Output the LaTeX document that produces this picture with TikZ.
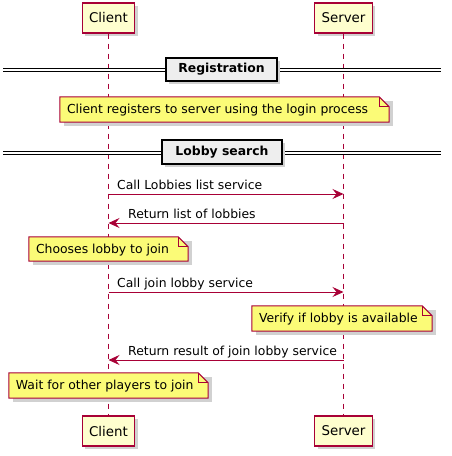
\documentclass[tikz,border=0pt]{standalone}
\usepackage{fontspec}
\setmainfont{DejaVu Sans}
\usetikzlibrary{arrows.meta,shadows}

\definecolor{umlred}{HTML}{A80036}
\definecolor{umlbeige}{HTML}{FEFECE}
\definecolor{umlyellow}{HTML}{FBFB77}
\definecolor{umlgrey}{HTML}{EEEEEE}

\tikzset{
  actor/.style={shape=rectangle, draw=umlred, fill=umlbeige, line width=1.2pt,
    minimum height=30pt, inner xsep=7pt, inner ysep=0pt,
    font=\fontsize{13.4}{16}\selectfont,
    drop shadow={shadow xshift=3pt, shadow yshift=-3pt, fill=black!18, opacity=1}},
  lifeline/.style={draw=umlred, line width=1pt, dash pattern=on 5pt off 5pt},
  msg/.style={draw=umlred, line width=1pt, -{Stealth[length=11pt, width=10pt, inset=4pt]}},
  msgtext/.style={anchor=base west, inner sep=0pt, font=\fontsize{12.4}{15}\selectfont},
  divline/.style={draw=black, line width=1pt, double=white, double distance=2.5pt},
  divbox/.style={shape=rectangle, draw=black, fill=umlgrey, line width=2pt, inner sep=0pt,
    font=\bfseries\fontsize{12.4}{15}\selectfont,
    drop shadow={shadow xshift=3pt, shadow yshift=-3pt, fill=black!18, opacity=1}},
  notearea/.style={shape=rectangle, draw=none, inner sep=0pt},
  notetext/.style={anchor=base west, inner sep=0pt, font=\fontsize{12.4}{15}\selectfont},
}

% folded note outline round an empty node
\newcommand{\foldnote}[1]{%
  \fill[black!18] ([shift={(4pt,-4pt)}]#1.south west) rectangle ([shift={(4pt,-4pt)}]#1.north east);
  \filldraw[draw=umlred, fill=umlyellow, line width=1pt]
    (#1.south west) -- (#1.north west) -- ([xshift=-10pt]#1.north east)
    -- ([yshift=-10pt]#1.north east) -- (#1.south east) -- cycle;
  \draw[umlred, line width=1pt] ([xshift=-10pt]#1.north east) |- ([yshift=-10pt]#1.north east);
}

\begin{document}
\begin{tikzpicture}[x=1pt, y=-1pt]
\useasboundingbox (0,0) rectangle (452,456);
%%%%%%%%%%%%%%%%%%%%%%%%%%%%%%%%%%%%%%%%%%% HELP LINES
%\draw[help lines, step=10pt] (0,0) grid (452,456);

%%%%%%%%%%%%%%%%%%%%%%%%%%%%%%%%%%%%%%%%%%% participants
\node[actor](clientTop)at(108.5,18){Client};
\node[actor](serverTop)at(343.5,18){Server};
\node[actor](clientBot)at(108.5,431){Client};
\node[actor](serverBot)at(343.5,431){Server};

\draw[lifeline] (clientTop) -- (clientBot);
\draw[lifeline] (serverTop) -- (serverBot);

%%%%%%%%%%%%%%%%%%%%%%%%%%%%%%%%%%%%%%%%%%% dividers
\coordinate (regL) at (3,70);
\coordinate (regR) at (441,70);
\draw[divline] (regL) -- (regR);
\node[divbox, minimum width=111pt, minimum height=23pt](regDiv)at(221.5,69.5){Registration};

\coordinate (lobbyL) at (3,153);
\coordinate (lobbyR) at (441,153);
\draw[divline] (lobbyL) -- (lobbyR);
\node[divbox, minimum width=120pt, minimum height=24pt](lobbyDiv)at(222,152){Lobby search};

%%%%%%%%%%%%%%%%%%%%%%%%%%%%%%%%%%%%%%%%%%% notes
\node[notearea, minimum width=329pt, minimum height=25pt](noteReg)at(224.5,109.5){};
\foldnote{noteReg}
\node[notetext](noteRegText)at([xshift=7pt, yshift=-16.5pt]noteReg.north west){Client registers to server using the login process};

\node[notearea, minimum width=159pt, minimum height=24pt](noteChoose)at(108.5,249){};
\foldnote{noteChoose}
\node[notetext](noteChooseText)at([xshift=7pt, yshift=-16.5pt]noteChoose.north west){Chooses lobby to join};

\node[notearea, minimum width=180pt, minimum height=25pt](noteVerify)at(342,318.5){};
\foldnote{noteVerify}
\node[notetext](noteVerifyText)at([xshift=7pt, yshift=-16.5pt]noteVerify.north west){Verify if lobby is available};

\node[notearea, minimum width=199pt, minimum height=25pt](noteWait)at(108.5,385.5){};
\foldnote{noteWait}
\node[notetext](noteWaitText)at([xshift=7pt, yshift=-16.5pt]noteWait.north west){Wait for other players to join};

%%%%%%%%%%%%%%%%%%%%%%%%%%%%%%%%%%%%%%%%%%% messages
\coordinate (callListC) at (108.5,194);
\coordinate (callListS) at (343.5,194);
\draw[msg] (callListC) -- (callListS);
\node[msgtext](callListText)at(117,189){Call Lobbies list service};

\coordinate (retListS) at (343.5,223);
\coordinate (retListC) at (108.5,223);
\draw[msg] (retListS) -- (retListC);
\node[msgtext](retListText)at(128,218){Return list of lobbies};

\coordinate (callJoinC) at (108.5,292);
\coordinate (callJoinS) at (343.5,292);
\draw[msg] (callJoinC) -- (callJoinS);
\node[msgtext](callJoinText)at(117,287){Call join lobby service};

\coordinate (retJoinS) at (343.5,360);
\coordinate (retJoinC) at (108.5,360);
\draw[msg] (retJoinS) -- (retJoinC);
\node[msgtext](retJoinText)at(128,355){Return result of join lobby service};
\end{tikzpicture}
\end{document}
